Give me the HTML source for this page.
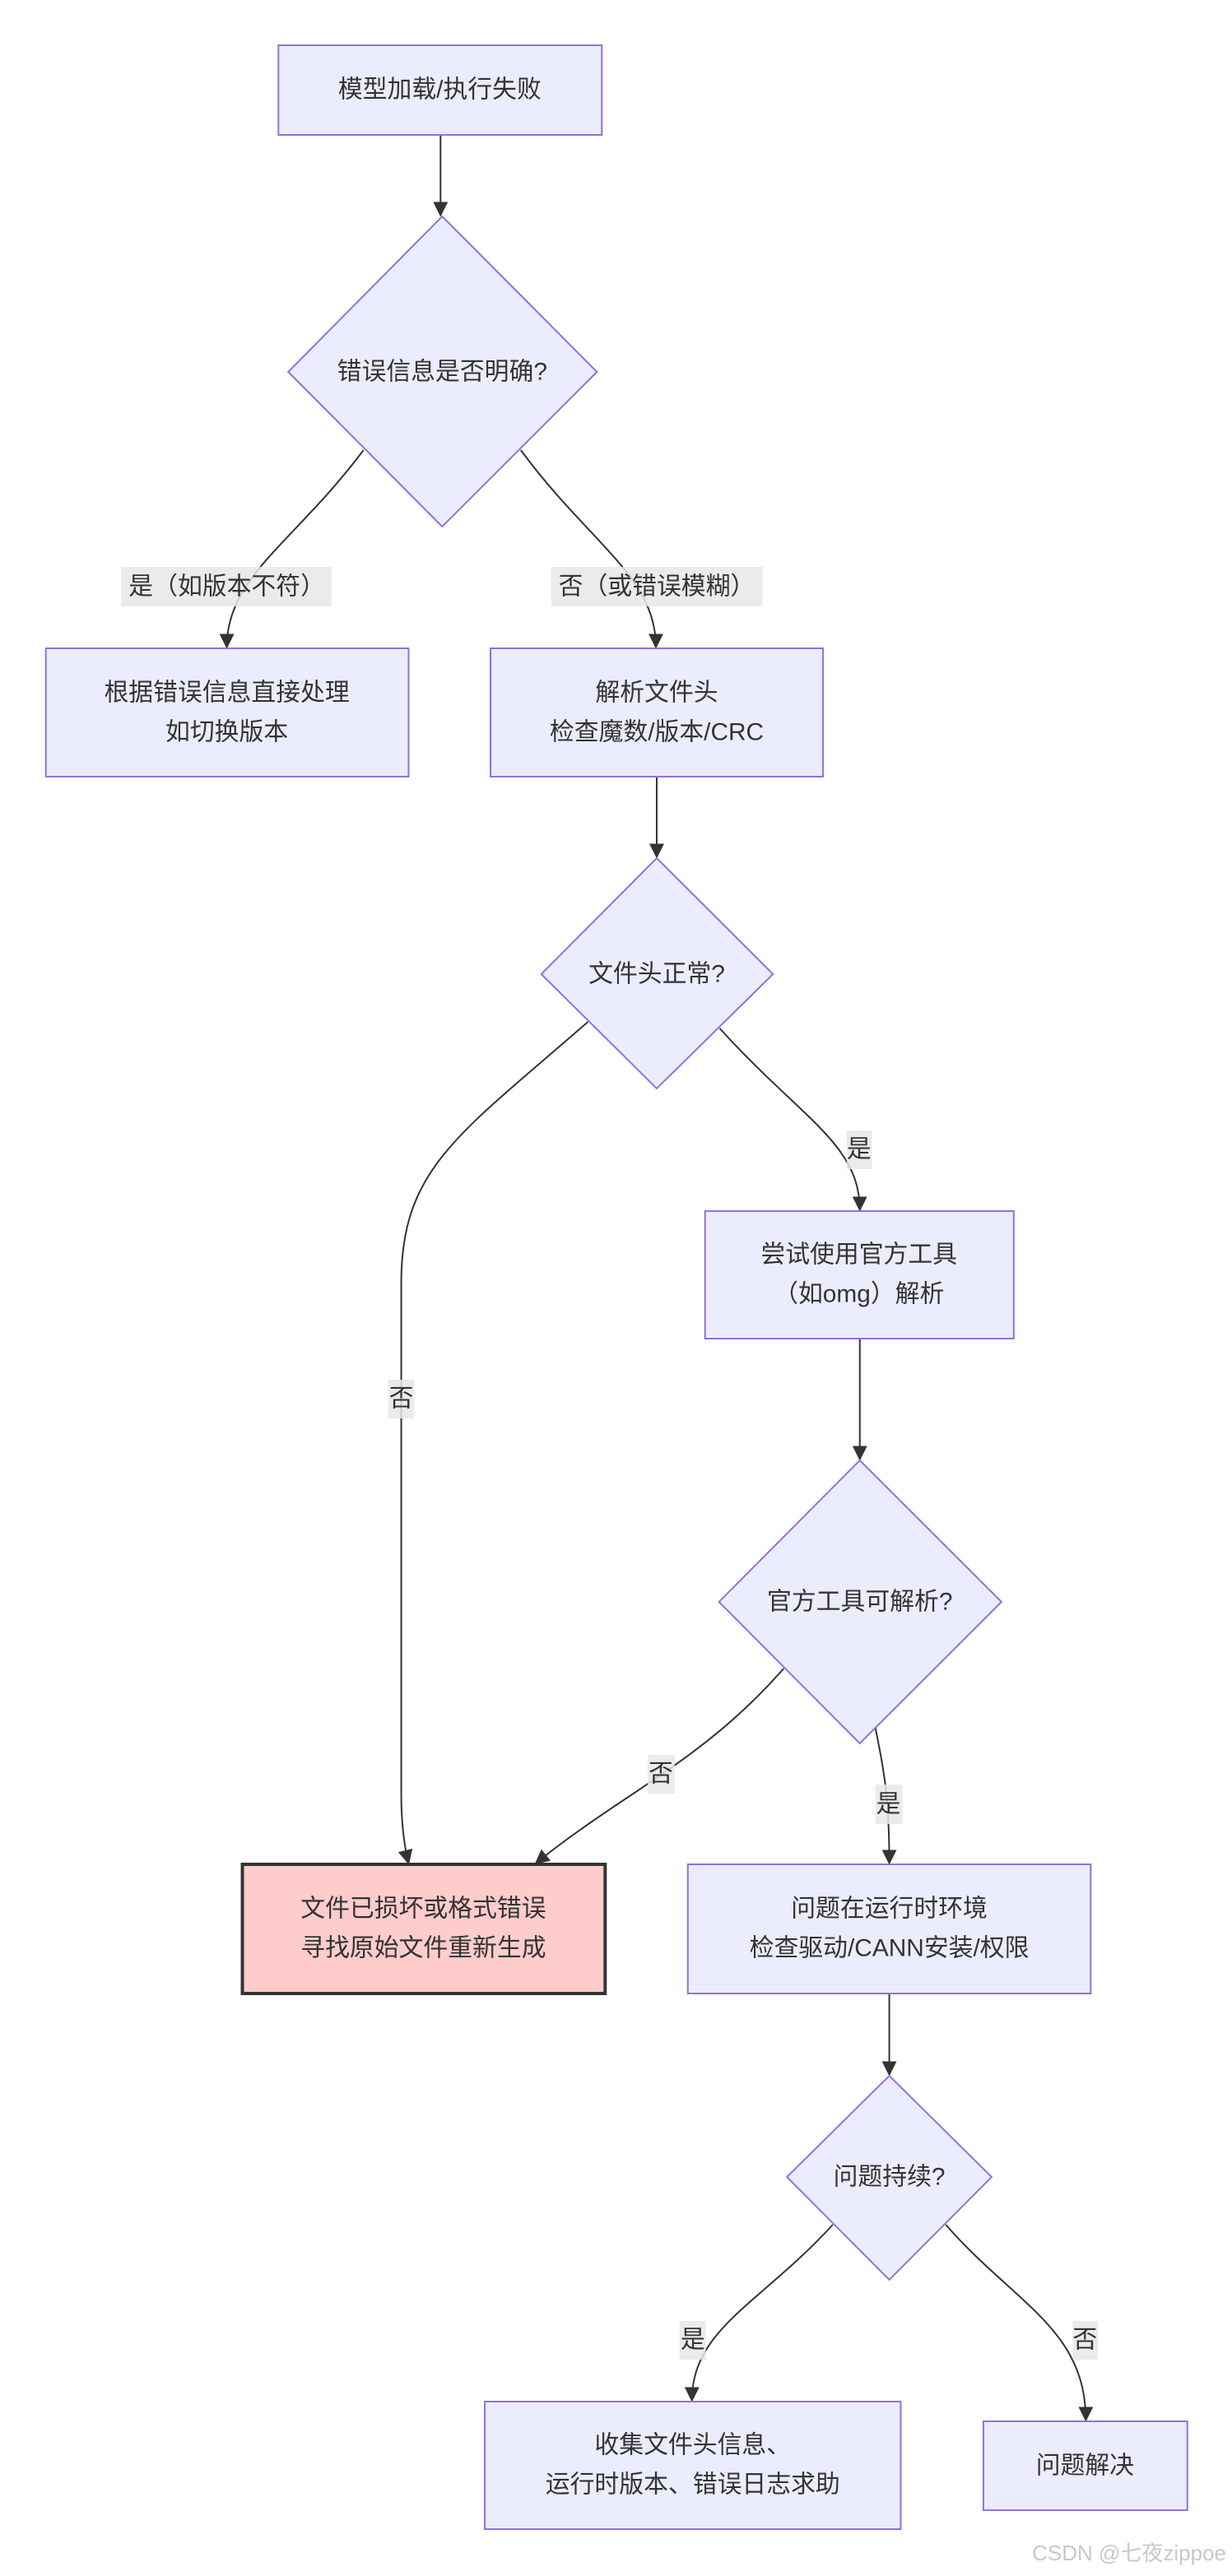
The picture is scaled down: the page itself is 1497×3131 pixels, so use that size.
<!DOCTYPE html>
<html><head><meta charset="utf-8">
<style>
html,body{margin:0;padding:0;background:#fff;}
svg{display:block;}
text{font-family:"Liberation Sans","Noto Sans CJK SC",sans-serif;fill:#333;}
</style></head>
<body>
<svg width="1497" height="3131" viewBox="0 0 1497 3131" xmlns="http://www.w3.org/2000/svg">
<defs>
<marker id="ar" viewBox="0 0 12 12" refX="11" refY="6" markerWidth="18" markerHeight="18" markerUnits="userSpaceOnUse" orient="auto">
<path d="M0,0 L12,6 L0,12 z" fill="#333"/>
</marker>
</defs>
<g transform="translate(-1,0) scale(0.995,1)">
<g fill="none" stroke="#333" stroke-width="2" marker-end="url(#ar)">
<path d="M539,164 L539,262"/>
<path d="M445,547 C360,660 278,700 278,787"/>
<path d="M637,547 C720,660 802,700 802,787"/>
<path d="M803,944 L803,1042"/>
<path d="M880,1250 C980,1360 1051,1390 1051,1471"/>
<path d="M719,1242 C560,1380 491,1420 491,1560 L491,2180 C491,2220 495,2245 500,2265"/>
<path d="M1051,1627 L1051,1774"/>
<path d="M958,2028 C860,2140 760,2180 655,2265"/>
<path d="M1068,2090 C1080,2150 1087,2180 1087,2265"/>
<path d="M1087,2423 L1087,2522"/>
<path d="M1018,2704 C930,2800 846,2830 846,2918"/>
<path d="M1156,2704 C1240,2800 1327,2830 1327,2942"/>
</g>
<g fill="#ececff" stroke="#9370db" stroke-width="2">
<rect x="341" y="55" width="395" height="109"/>
<polygon points="541,263 730,452 541,640 353,452"/>
<rect x="57" y="788" width="443" height="156"/>
<rect x="600" y="788" width="406" height="156"/>
<polygon points="803,1043 945,1184 803,1323 662,1184"/>
<rect x="862" y="1472" width="377" height="155"/>
<polygon points="1051,1775 1224,1947 1051,2119 879,1947"/>
<rect x="841" y="2266" width="492" height="157"/>
<polygon points="1087,2523 1212,2646 1087,2771 962,2646"/>
<rect x="593" y="2919" width="508" height="155"/>
<rect x="1202" y="2943" width="249" height="108"/>
</g>
<rect x="297" y="2266" width="443" height="157" fill="#ffcccc" stroke="#333" stroke-width="4"/>
<g fill="rgba(232,232,232,0.85)">
<rect x="149" y="689" width="257" height="48"/>
<rect x="674" y="689" width="258" height="48"/>
<rect x="1035" y="1374" width="31" height="47"/>
<rect x="475" y="1677" width="32" height="47"/>
<rect x="792" y="2133" width="33" height="47"/>
<rect x="1070" y="2169" width="33" height="48"/>
<rect x="831" y="2821" width="32" height="47"/>
<rect x="1311" y="2821" width="31" height="47"/>
</g>
<g font-size="30" text-anchor="middle" dominant-baseline="central">
<text x="538" y="109">模型加载/执行失败</text>
<text x="541" y="452">错误信息是否明确?</text>
<text x="278" y="713">是（如版本不符）</text>
<text x="803" y="713">否（或错误模糊）</text>
<text x="278" y="842">根据错误信息直接处理</text>
<text x="278" y="890">如切换版本</text>
<text x="803" y="842">解析文件头</text>
<text x="803" y="890">检查魔数/版本/CRC</text>
<text x="803" y="1184">文件头正常?</text>
<text x="1050" y="1397">是</text>
<text x="1050" y="1525">尝试使用官方工具</text>
<text x="1050" y="1573">（如omg）解析</text>
<text x="491" y="1700">否</text>
<text x="1051" y="1947">官方工具可解析?</text>
<text x="808" y="2156">否</text>
<text x="1086" y="2193">是</text>
<text x="518" y="2320">文件已损坏或格式错误</text>
<text x="518" y="2368">寻找原始文件重新生成</text>
<text x="1087" y="2320">问题在运行时环境</text>
<text x="1087" y="2368">检查驱动/CANN安装/权限</text>
<text x="1087" y="2646">问题持续?</text>
<text x="847" y="2844">是</text>
<text x="1326" y="2844">否</text>
<text x="847" y="2972">收集文件头信息、</text>
<text x="847" y="3020">运行时版本、错误日志求助</text>
<text x="1326" y="2997">问题解决</text>
</g>
</g>
<text x="1490" y="3103" font-size="26" text-anchor="end" dominant-baseline="central" style="fill:#c8c8c8">CSDN @七夜zippoe</text>
</svg>
</body></html>
